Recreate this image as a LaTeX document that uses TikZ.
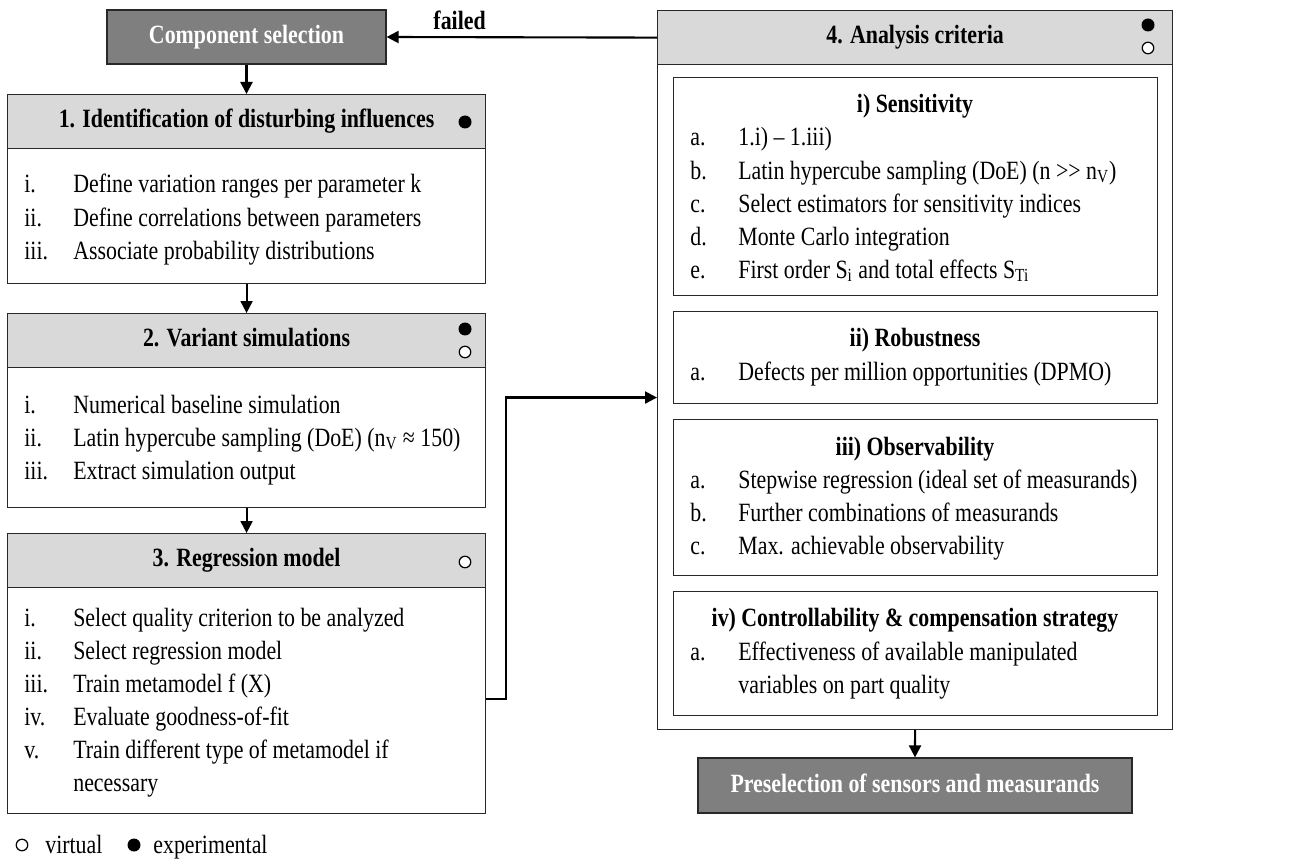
\documentclass[tikz,border=0pt]{standalone}
\usepackage{fontspec}
\setmainfont{Liberation Serif}[FakeStretch=0.83]
\usepackage{tikz}
\usetikzlibrary{arrows.meta}
\usetikzlibrary{positioning}
\definecolor{selgray}{RGB}{127,127,127}
\definecolor{headgray}{RGB}{217,217,217}
\definecolor{framegray}{RGB}{40,40,40}
\newcommand{\bodyfont}{\fontsize{15}{18.8}\selectfont}

\begin{document}
\begin{tikzpicture}[x=0.02cm, y=-0.02cm]
\tikzset{
    selbox/.style = {rectangle, draw=framegray, line width=0.7pt, fill=selgray, text=white, font=\bodyfont\bfseries, inner sep=0pt, text height=0.84em, text depth=0.1em},
    stepbox/.style = {rectangle, draw=framegray, line width=0.7pt, anchor=north west, inner sep=0pt},
    headbar/.style = {stepbox, fill=headgray, minimum height=1.08cm, font=\bodyfont\bfseries, text height=0.82em, text depth=0.1em},
    subtitle/.style = {anchor=base, inner sep=0pt, font=\bodyfont\bfseries},
    itemlist/.style = {anchor=base west, inner sep=0pt, align=left, font=\bodyfont},
    fdot/.style = {circle, fill=black, minimum size=0.26cm, inner sep=0pt},
    odot/.style = {circle, draw=black, fill=white, line width=0.7pt, minimum size=0.23cm, inner sep=0pt},
    arr/.style = {line width=1.2pt, -{Triangle[length=0.24cm,width=0.24cm]}},
}
\useasboundingbox (0,0) rectangle (1311,861);

% start and end
\node (comp) [selbox, minimum width=5.58cm, minimum height=1.08cm] at (246.5,37) {Component selection};
\node (pre) [selbox, minimum width=8.68cm, minimum height=1.1cm] at (915,785.5) {Preselection of sensors and measurands};

% step 1
\node (b1) [stepbox, minimum width=9.56cm, minimum height=3.78cm] at (7,94) {};
\node (h1) [headbar, minimum width=9.56cm] at (7,94) {1. Identification of disturbing influences};
\node (d1) [fdot] at (465,122) {};
\node (l1) [itemlist] at (24,193) {\begin{tabular}[t]{@{}p{0.98cm}@{}l@{}}
i. & Define variation ranges per parameter k\\
ii. & Define correlations between parameters\\
iii. & Associate probability distributions
\end{tabular}};

% step 2
\node (b2) [stepbox, minimum width=9.56cm, minimum height=3.88cm] at (7,313) {};
\node (h2) [headbar, minimum width=9.56cm] at (7,313) {2. Variant simulations};
\node (d2a) [fdot] at (465,329) {};
\node (d2b) [odot] at (465,352) {};
\node (l2) [itemlist] at (24,413) {\begin{tabular}[t]{@{}p{0.98cm}@{}l@{}}
i. & Numerical baseline simulation\\
ii. & Latin hypercube sampling (DoE) (n\textsubscript{V} ≈ 150)\\
iii. & Extract simulation output
\end{tabular}};

% step 3
\node (b3) [stepbox, minimum width=9.56cm, minimum height=5.6cm] at (7,533) {};
\node (h3) [headbar, minimum width=9.56cm] at (7,533) {3. Regression model};
\node (d3) [odot] at (465,562) {};
\node (l3) [itemlist] at (24,626) {\begin{tabular}[t]{@{}p{0.98cm}@{}l@{}}
i. & Select quality criterion to be analyzed\\
ii. & Select regression model\\
iii. & Train metamodel f (X)\\
iv. & Evaluate goodness-of-fit\\
v. & Train different type of metamodel if\\
 & necessary
\end{tabular}};

% step 4
\node (b4) [stepbox, minimum width=10.3cm, minimum height=14.38cm] at (657,10) {};
\node (h4) [headbar, minimum width=10.3cm] at (657,10) {4. Analysis criteria};
\node (d4a) [fdot] at (1148,25) {};
\node (d4b) [odot] at (1148,48) {};

\node (s1) [stepbox, minimum width=9.68cm, minimum height=4.36cm] at (673,77) {};
\node (t1) [subtitle] at (915,113) {i) Sensitivity};
\node (m1) [itemlist] at (690,146) {\begin{tabular}[t]{@{}p{0.96cm}@{}l@{}}
a. & 1.i) – 1.iii)\\
b. & Latin hypercube sampling (DoE) (n >{}> n\textsubscript{V})\\
c. & Select estimators for sensitivity indices\\
d. & Monte Carlo integration\\
e. & First order S\textsubscript{i} and total effects S\textsubscript{Ti}
\end{tabular}};

\node (s2) [stepbox, minimum width=9.68cm, minimum height=1.84cm] at (673,311) {};
\node (t2) [subtitle] at (915,346) {ii) Robustness};
\node (m2) [itemlist] at (690,380) {\begin{tabular}[t]{@{}p{0.96cm}@{}l@{}}
a. & Defects per million opportunities (DPMO)
\end{tabular}};

\node (s3) [stepbox, minimum width=9.68cm, minimum height=3.12cm] at (673,419) {};
\node (t3) [subtitle] at (915,455) {iii) Observability};
\node (m3) [itemlist] at (690,488) {\begin{tabular}[t]{@{}p{0.96cm}@{}l@{}}
a. & Stepwise regression (ideal set of measurands)\\
b. & Further combinations of measurands\\
c. & Max. achievable observability
\end{tabular}};

\node (s4) [stepbox, minimum width=9.68cm, minimum height=2.48cm] at (673,591) {};
\node (t4) [subtitle] at (915,626) {iv) Controllability \& compensation strategy};
\node (m4) [itemlist] at (690,660) {\begin{tabular}[t]{@{}p{0.96cm}@{}l@{}}
a. & Effectiveness of available manipulated\\
 & variables on part quality
\end{tabular}};

% legend
\node (lv) [odot] at (22,845) {};
\node (lvt) [itemlist] at (45,853) {virtual};
\node (le) [fdot] at (134,845) {};
\node (let) [itemlist] at (153,853) {experimental};

% connectors
\draw[arr] (comp.south) -- (comp.south |- b1.north);
\draw[arr] (b1.south) -- (b2.north);
\draw[arr] (b2.south) -- (b3.north);
\draw[arr] ([yshift=2.3cm]b3.south east) -- ++(20,0) |- ([yshift=-0.55cm]b4.west);
\draw[arr] (b4.south) -- (pre.north);
\draw[arr] (h4.west) -- node (fl) [pos=0.73, above, inner sep=3.5pt, font=\bodyfont\bfseries] {failed} (comp.east);

\end{tikzpicture}
\end{document}
